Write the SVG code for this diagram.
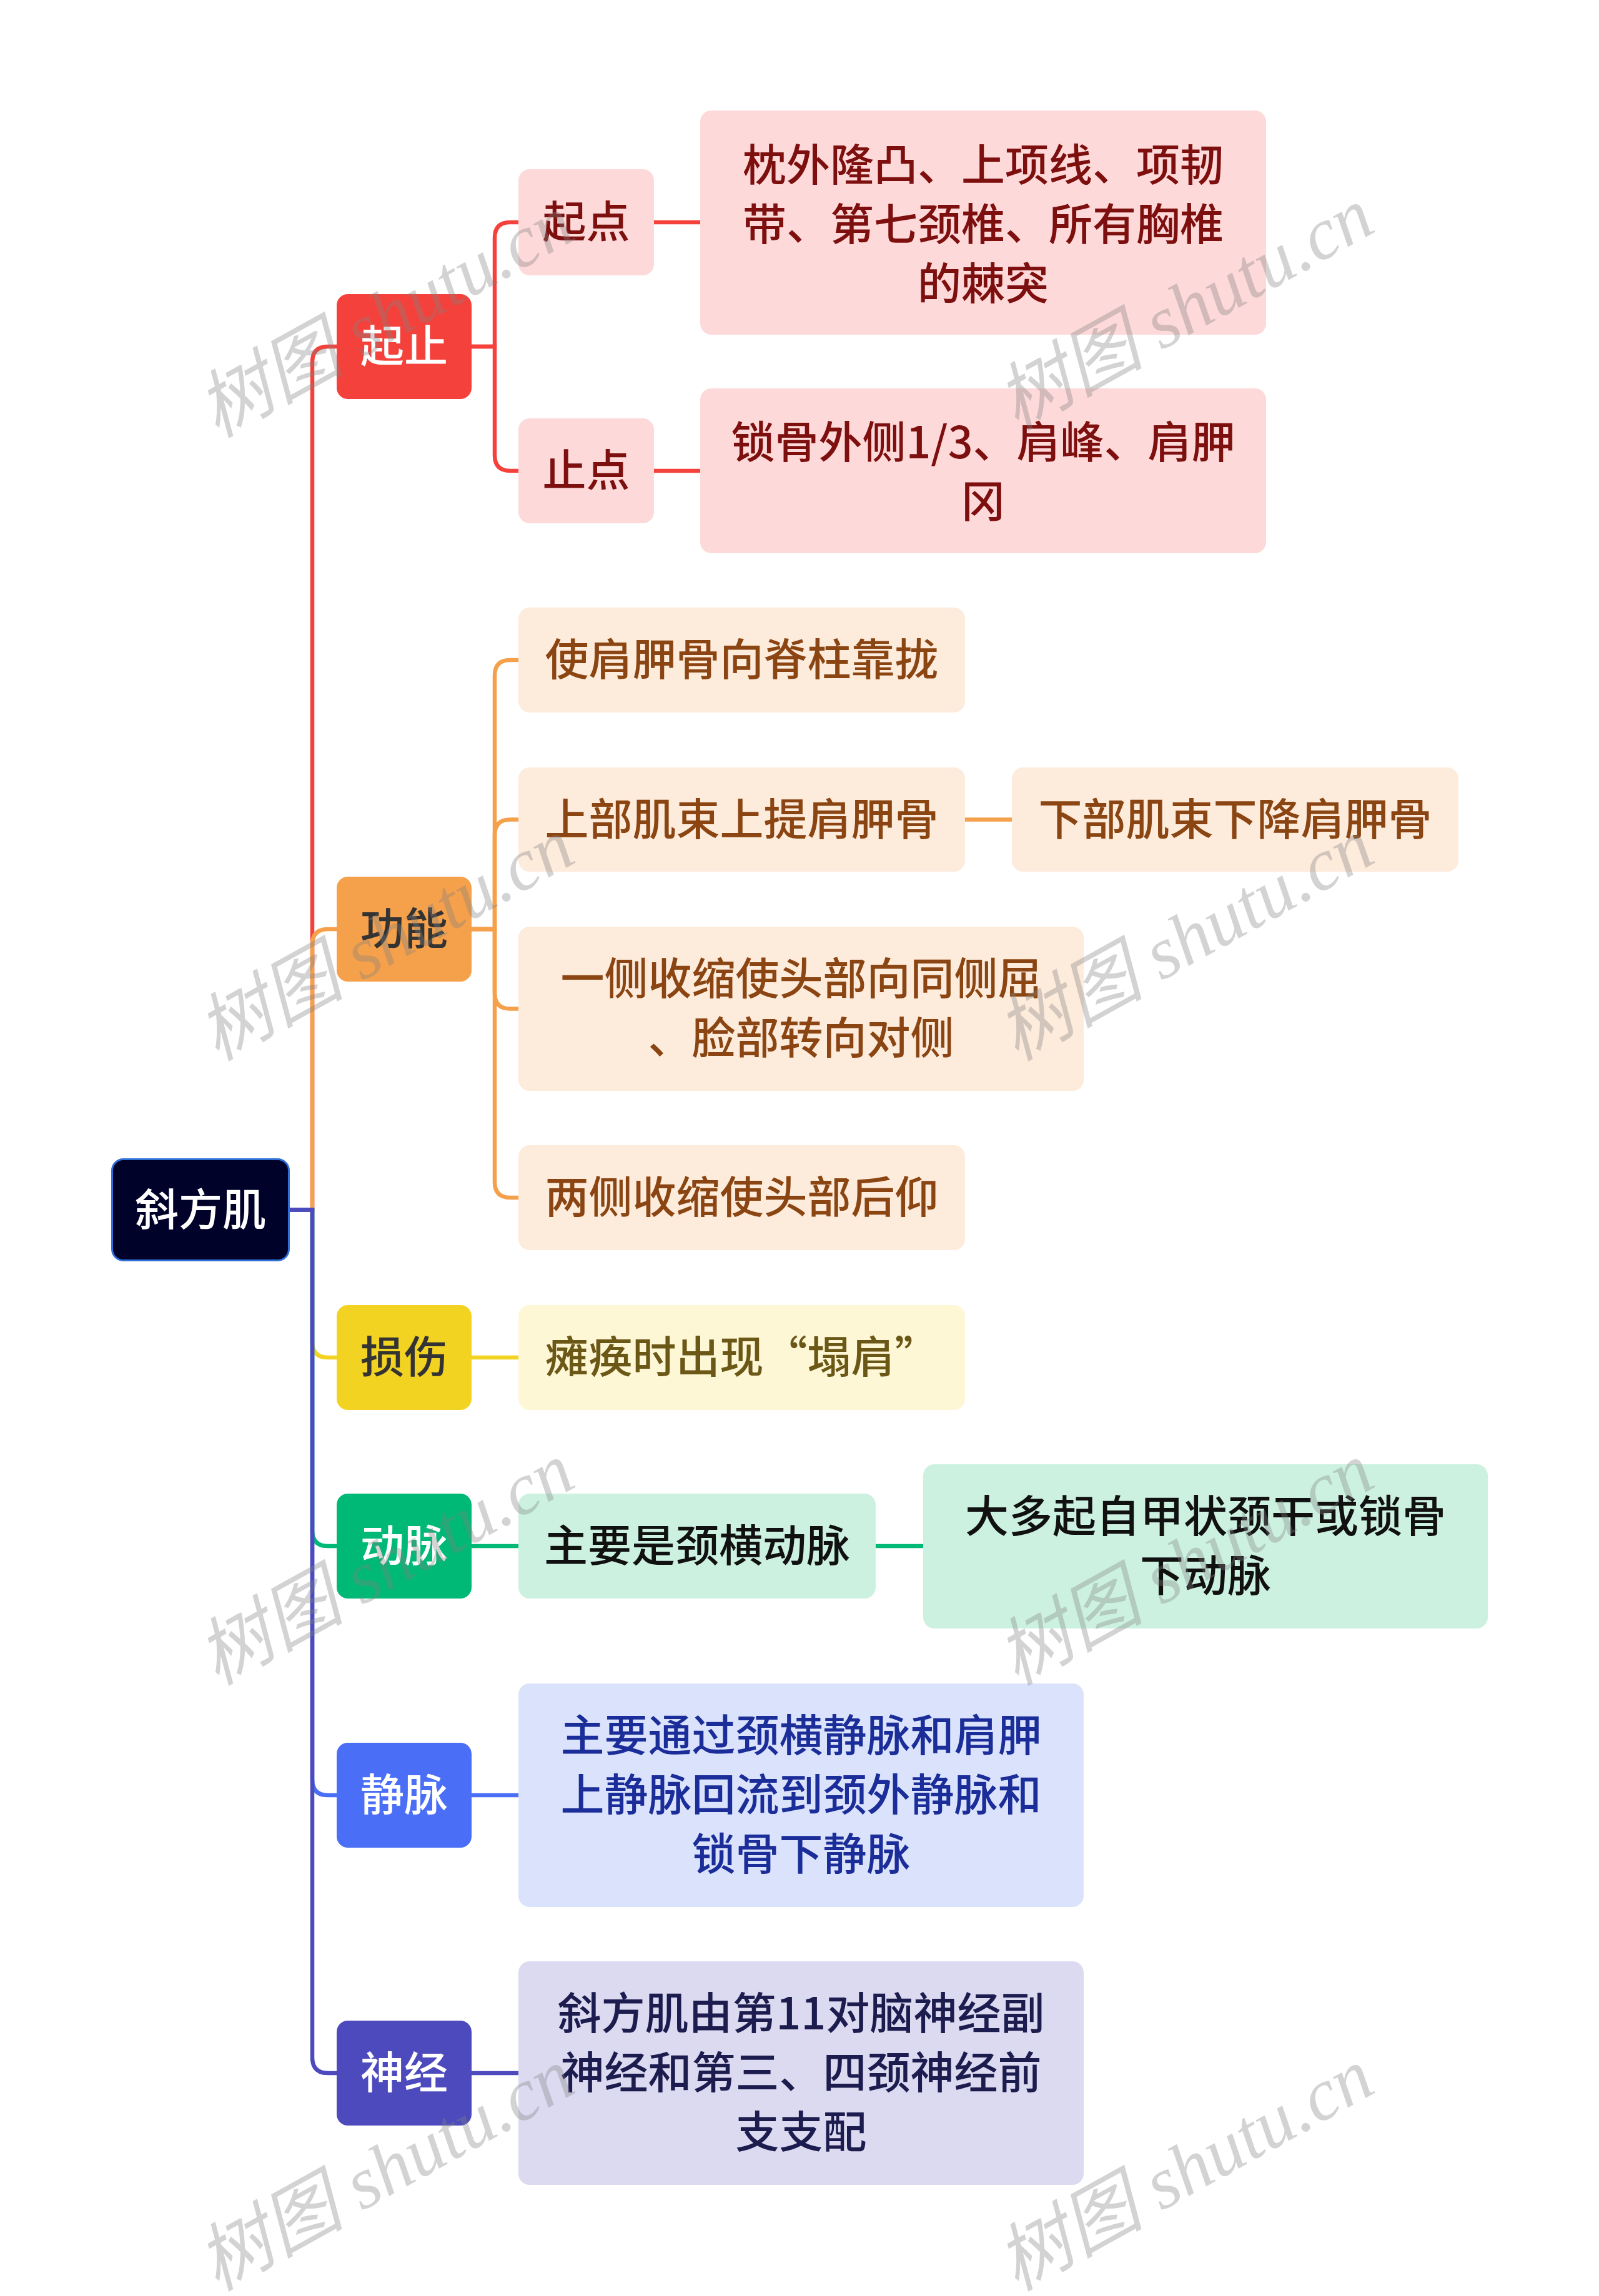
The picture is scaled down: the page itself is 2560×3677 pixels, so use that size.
<svg xmlns="http://www.w3.org/2000/svg" width="2560" height="3677" viewBox="0 0 2560 3677">
<style>
text{font-family:"Noto Sans CJK SC","Noto Sans",sans-serif;font-size:70px;font-weight:500;text-anchor:middle}
.c{fill:none;stroke-width:6.5;stroke-linecap:butt}
.wm{font-family:"Liberation Serif","Noto Sans CJK SC",serif;font-style:italic;font-weight:400;font-size:118px;fill:#808080;fill-opacity:0.35;text-anchor:start}
</style>
<rect width="2560" height="3677" fill="#ffffff"/>
<g id="connectors">
<path class="c" stroke="#f5413b" d="M463 1937.5H500V580Q500 555 525 555H539"/>
<path class="c" stroke="#f5a04a" d="M463 1937.5H500V1513Q500 1488 525 1488H539"/>
<path class="c" stroke="#f2d322" d="M463 1937.5H500V2149Q500 2174 525 2174H539"/>
<path class="c" stroke="#00b977" d="M463 1937.5H500V2451Q500 2476 525 2476H539"/>
<path class="c" stroke="#4a6ef5" d="M463 1937.5H500V2850Q500 2875 525 2875H539"/>
<path class="c" stroke="#4c4abd" d="M463 1937.5H500V3295Q500 3320 525 3320H539"/>
<path class="c" stroke="#f5413b" d="M755 555H792V381Q792 356 817 356H830"/>
<path class="c" stroke="#f5413b" d="M755 555H792V729Q792 754 817 754H830"/>
<path class="c" stroke="#f5413b" d="M1047 356H1121"/>
<path class="c" stroke="#f5413b" d="M1047 754H1121"/>
<path class="c" stroke="#f5a04a" d="M755 1488H792V1082Q792 1057 817 1057H830"/>
<path class="c" stroke="#f5a04a" d="M755 1488H792V1337.5Q792 1312.5 817 1312.5H830"/>
<path class="c" stroke="#f5a04a" d="M755 1488H792V1590.5Q792 1615.5 817 1615.5H830"/>
<path class="c" stroke="#f5a04a" d="M755 1488H792V1893Q792 1918 817 1918H830"/>
<path class="c" stroke="#f5a04a" d="M1545 1312.5H1620"/>
<path class="c" stroke="#f2d322" d="M755 2174H830"/>
<path class="c" stroke="#00b977" d="M755 2476H830"/>
<path class="c" stroke="#00b977" d="M1402 2476H1478"/>
<path class="c" stroke="#4a6ef5" d="M755 2875H830"/>
<path class="c" stroke="#4c4abd" d="M755 3320H830"/>
</g>
<g id="root"><rect x="179.5" y="1856.5" width="283" height="162" rx="18" fill="#000229" stroke="#2f6fd8" stroke-width="3"/><text x="321" y="1963" fill="#ffffff">斜方肌</text></g>
<g id="qizhi"><rect x="539" y="471" width="216" height="168" rx="18" fill="#f5413b"/><text x="647" y="580" fill="#ffffff">起止</text></g>
<g id="qidian"><rect x="830" y="271" width="217" height="170" rx="18" fill="#fdd9d9"/><text x="938.5" y="381" fill="#7d0f0f">起点</text></g>
<g id="zhidian"><rect x="830" y="670" width="217" height="168" rx="18" fill="#fdd9d9"/><text x="938.5" y="779" fill="#7d0f0f">止点</text></g>
<g id="qidian-1"><rect x="1121" y="177" width="906" height="359" rx="18" fill="#fdd9d9"/><text x="1574" y="290" fill="#7d0f0f">枕外隆凸、上项线、项韧</text><text x="1574" y="385" fill="#7d0f0f">带、第七颈椎、所有胸椎</text><text x="1574" y="480" fill="#7d0f0f">的棘突</text></g>
<g id="zhidian-1"><rect x="1121" y="622" width="906" height="264" rx="18" fill="#fdd9d9"/><text x="1574" y="734" fill="#7d0f0f">锁骨外侧1/3、肩峰、肩胛</text><text x="1574" y="829" fill="#7d0f0f">冈</text></g>
<g id="gongneng"><rect x="539" y="1404" width="216" height="168" rx="18" fill="#f5a04a"/><text x="647" y="1513" fill="#333333">功能</text></g>
<g id="gn-1"><rect x="830" y="973" width="715" height="168" rx="18" fill="#fdebdc"/><text x="1187.5" y="1082" fill="#8a4512">使肩胛骨向脊柱靠拢</text></g>
<g id="gn-2"><rect x="830" y="1229" width="715" height="167" rx="18" fill="#fdebdc"/><text x="1187.5" y="1337.5" fill="#8a4512">上部肌束上提肩胛骨</text></g>
<g id="gn-2-1"><rect x="1620" y="1229" width="715" height="167" rx="18" fill="#fdebdc"/><text x="1977.5" y="1337.5" fill="#8a4512">下部肌束下降肩胛骨</text></g>
<g id="gn-3"><rect x="830" y="1484" width="905" height="263" rx="18" fill="#fdebdc"/><text x="1282.5" y="1593" fill="#8a4512">一侧收缩使头部向同侧屈</text><text x="1282.5" y="1688" fill="#8a4512">、脸部转向对侧</text></g>
<g id="gn-4"><rect x="830" y="1834" width="715" height="168" rx="18" fill="#fdebdc"/><text x="1187.5" y="1943" fill="#8a4512">两侧收缩使头部后仰</text></g>
<g id="sunshang"><rect x="539" y="2090" width="216" height="168" rx="18" fill="#f2d322"/><text x="647" y="2199" fill="#333333">损伤</text></g>
<g id="ss-1"><rect x="830" y="2090" width="715" height="168" rx="18" fill="#fdf7d6"/><text x="1187.5" y="2199" fill="#6b5716">瘫痪时出现“塌肩”</text></g>
<g id="dongmai"><rect x="539" y="2392" width="216" height="168" rx="18" fill="#00b977"/><text x="647" y="2501" fill="#ffffff">动脉</text></g>
<g id="dm-1"><rect x="830" y="2392" width="572" height="168" rx="18" fill="#ccf1e1"/><text x="1116" y="2501" fill="#111111">主要是颈横动脉</text></g>
<g id="dm-1-1"><rect x="1478" y="2345" width="904" height="263" rx="18" fill="#ccf1e1"/><text x="1930" y="2454" fill="#111111">大多起自甲状颈干或锁骨</text><text x="1930" y="2549" fill="#111111">下动脉</text></g>
<g id="jingmai"><rect x="539" y="2791" width="216" height="168" rx="18" fill="#4a6ef5"/><text x="647" y="2900" fill="#ffffff">静脉</text></g>
<g id="jm-1"><rect x="830" y="2696" width="905" height="358" rx="18" fill="#dbe3fc"/><text x="1282.5" y="2805" fill="#1a2d99">主要通过颈横静脉和肩胛</text><text x="1282.5" y="2900" fill="#1a2d99">上静脉回流到颈外静脉和</text><text x="1282.5" y="2995" fill="#1a2d99">锁骨下静脉</text></g>
<g id="shenjing"><rect x="539" y="3236" width="216" height="168" rx="18" fill="#4c4abd"/><text x="647" y="3345" fill="#ffffff">神经</text></g>
<g id="sj-1"><rect x="830" y="3141" width="905" height="358" rx="18" fill="#dcdaf1"/><text x="1282.5" y="3250" fill="#1c1c4e">斜方肌由第11对脑神经副</text><text x="1282.5" y="3345" fill="#1c1c4e">神经和第三、四颈神经前</text><text x="1282.5" y="3440" fill="#1c1c4e">支支配</text></g>
<g id="watermarks">
<text class="wm" transform="translate(347 702) rotate(-29)">树图 shutu.cn</text>
<text class="wm" transform="translate(1627 690) rotate(-29)">树图 shutu.cn</text>
<text class="wm" transform="translate(347 1700) rotate(-29)">树图 shutu.cn</text>
<text class="wm" transform="translate(1627 1700) rotate(-29)">树图 shutu.cn</text>
<text class="wm" transform="translate(347 2700) rotate(-29)">树图 shutu.cn</text>
<text class="wm" transform="translate(1627 2700) rotate(-29)">树图 shutu.cn</text>
<text class="wm" transform="translate(347 3670) rotate(-29)">树图 shutu.cn</text>
<text class="wm" transform="translate(1627 3670) rotate(-29)">树图 shutu.cn</text>
</g>
</svg>
